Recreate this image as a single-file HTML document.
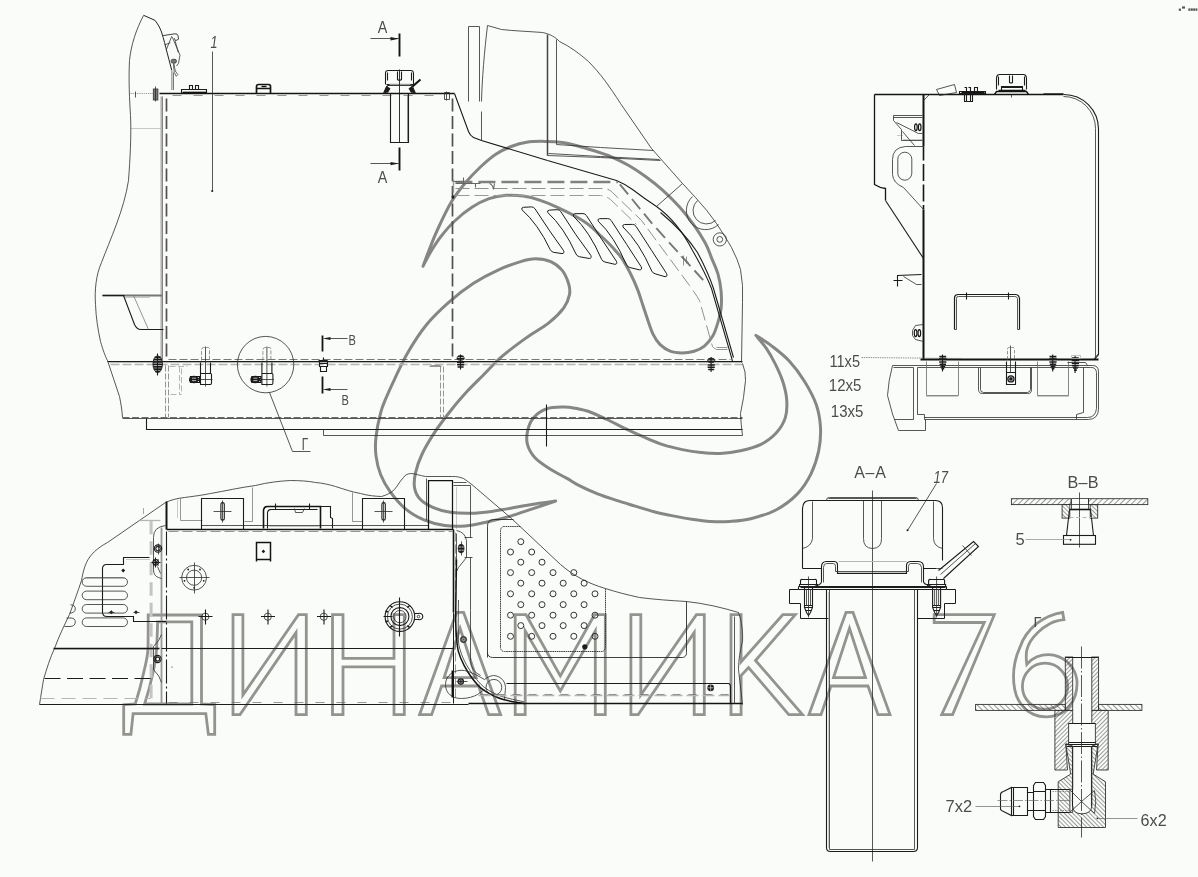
<!DOCTYPE html>
<html><head><meta charset="utf-8"><title>drawing</title>
<style>
html,body{margin:0;padding:0;background:#fafcf9;}
body{width:1198px;height:877px;overflow:hidden;font-family:"Liberation Sans",sans-serif;}
svg{display:block}
.k{stroke:#141414;stroke-width:1.7;fill:none}
.m{stroke:#1c1c1c;stroke-width:1.1;fill:none}
.t{stroke:#2c2c2c;stroke-width:.8;fill:none}
.tt{stroke:#6a6a6a;stroke-width:.7;fill:none}
.g{stroke:#9a9a9a;stroke-width:2;fill:none}
.gl{stroke:#b5b5b5;stroke-width:1.2;fill:none}
.wm{stroke:#939390;stroke-width:2.8;fill:none;stroke-linejoin:miter}
.sw{stroke:#868684;stroke-width:3.0;fill:none;stroke-linecap:round;stroke-linejoin:round}
.f{fill:#1c1c1c;stroke:none}
text{font-family:"Liberation Sans",sans-serif;fill:#4a4a4a;opacity:.99}
</style></head><body>
<svg width="1198" height="877" viewBox="0 0 1198 877">
<rect width="1198" height="877" fill="#fafcf9"/>
<defs>
<filter id="soft" x="-2%" y="-2%" width="104%" height="104%"><feGaussianBlur stdDeviation="0.45"/></filter>
<filter id="soft2" x="-2%" y="-2%" width="104%" height="104%"><feGaussianBlur stdDeviation="0.6"/></filter>
<pattern id="h1" width="4" height="4" patternUnits="userSpaceOnUse" patternTransform="rotate(45)"><line x1="0" y1="0" x2="0" y2="4" stroke="#333" stroke-width="1"/></pattern>
<pattern id="h2" width="3" height="3" patternUnits="userSpaceOnUse" patternTransform="rotate(-45)"><line x1="0" y1="0" x2="0" y2="3" stroke="#333" stroke-width=".95"/></pattern>
<pattern id="h3" width="4" height="4" patternUnits="userSpaceOnUse" patternTransform="rotate(-45)"><line x1="0" y1="0" x2="0" y2="4" stroke="#333" stroke-width="1"/></pattern>
<pattern id="h4" width="3" height="3" patternUnits="userSpaceOnUse" patternTransform="rotate(45)"><line x1="0" y1="0" x2="0" y2="3" stroke="#333" stroke-width=".95"/></pattern>
</defs>

<!-- watermark swoosh -->
<g class="sw" filter="url(#soft2)">
<path d="M423.0,266.3 C424.0,263.6 426.7,256.1 429.1,250.0 C431.5,243.9 433.9,237.5 437.6,229.5 C441.3,221.5 446.7,209.8 451.3,202.1 C455.9,194.4 460.1,189.2 465.0,183.3 C469.9,177.5 475.3,171.8 480.4,167.0 C485.5,162.2 490.7,157.6 495.8,154.2 C500.9,150.8 506.1,148.5 511.2,146.5 C516.3,144.5 520.9,143.0 526.6,142.2 C532.3,141.3 539.4,141.3 545.4,141.4 C551.4,141.5 557.2,141.8 562.5,142.5 C567.8,143.2 571.8,144.3 577.1,145.7 C582.4,147.1 588.5,149.0 594.2,150.8 C599.9,152.7 605.6,154.4 611.3,156.8 C617.0,159.2 622.7,162.0 628.4,165.3 C634.1,168.6 639.8,172.4 645.5,176.5 C651.2,180.6 656.9,185.0 662.6,190.1 C668.3,195.2 674.7,201.6 679.8,207.3 C684.9,213.0 689.1,218.4 693.4,224.4 C697.7,230.4 702.4,237.8 705.4,243.2 C708.4,248.6 709.1,251.9 711.2,257.1 C713.3,262.3 716.4,268.5 718.0,274.2 C719.6,279.9 720.6,285.6 721.1,291.3 C721.6,297.0 721.6,303.3 721.1,308.4 C720.6,313.5 719.4,317.5 718.0,322.1 C716.6,326.7 715.2,331.8 712.9,335.8 C710.6,339.8 707.5,343.5 704.4,346.1 C701.3,348.7 697.8,350.1 694.1,351.2 C690.4,352.3 686.1,352.9 682.1,352.9 C678.1,352.9 673.8,352.6 670.1,351.2 C666.4,349.8 662.8,347.2 659.9,344.4 C657.0,341.5 655.0,338.1 653.0,334.1 C651.0,330.1 649.6,325.2 647.9,320.4 C646.2,315.5 644.5,310.1 642.8,305.0 C641.1,299.9 639.6,294.7 637.6,289.6 C635.6,284.5 633.4,279.3 630.8,274.2 C628.2,269.1 625.3,263.4 622.2,258.8 C619.1,254.2 615.5,250.6 612.0,246.8 C608.5,243.0 605.0,239.7 601.0,236.0 C597.0,232.3 592.6,227.8 588.2,224.4 C583.8,221.0 579.6,218.7 574.5,215.8 C569.4,213.0 563.1,209.9 557.4,207.3 C551.7,204.7 546.0,202.3 540.3,200.4 C534.6,198.5 528.9,196.9 523.2,196.1 C517.5,195.2 511.8,194.9 506.1,195.3 C500.4,195.7 494.7,196.7 489.0,198.7 C483.3,200.7 477.6,203.6 471.9,207.3 C466.2,211.0 459.8,216.2 454.7,221.0 C449.6,225.8 445.1,231.2 441.1,236.3 C437.1,241.4 433.8,246.7 430.8,251.7 C427.8,256.7 424.3,263.9 423.0,266.3 Z"/>
<path d="M555.7,501.0 C551.9,502.3 540.6,506.1 533.1,508.6 C525.6,511.1 518.1,513.9 510.6,516.1 C503.1,518.3 495.5,520.1 488.0,521.7 C480.5,523.3 472.6,525.3 465.4,525.9 C458.2,526.5 451.6,526.5 444.7,525.5 C437.8,524.5 430.6,522.7 424.0,519.9 C417.4,517.1 410.8,513.3 405.2,508.6 C399.6,503.9 394.2,497.2 390.1,491.6 C386.0,486.0 383.1,480.6 380.7,474.7 C378.3,468.8 376.8,462.2 376.0,455.9 C375.2,449.6 375.2,444.2 376.0,437.0 C376.8,429.8 378.9,419.3 380.7,412.6 C382.4,405.9 384.2,402.6 386.5,397.0 C388.8,391.4 391.0,386.7 394.5,379.3 C398.0,371.9 402.3,362.0 407.6,352.9 C412.9,343.8 419.6,333.2 426.5,324.7 C433.4,316.2 441.2,309.0 449.0,302.1 C456.8,295.2 465.3,288.6 473.5,283.3 C481.7,278.0 490.1,273.7 498.0,270.1 C505.9,266.5 514.3,263.5 520.6,261.6 C526.9,259.7 530.6,258.8 535.6,258.8 C540.6,258.8 546.3,259.7 550.7,261.6 C555.1,263.5 559.0,266.5 562.0,270.1 C565.0,273.7 567.2,279.2 568.5,283.3 C569.8,287.4 570.3,290.5 569.5,294.6 C568.7,298.7 567.2,303.1 563.8,307.8 C560.3,312.5 555.1,317.8 548.8,322.8 C542.5,327.8 534.1,332.2 526.2,337.9 C518.4,343.5 508.9,350.4 501.7,356.7 C494.5,363.0 488.5,369.9 482.9,375.5 C477.3,381.1 473.0,385.1 467.9,390.6 C462.8,396.2 457.6,402.0 452.2,408.8 C446.8,415.6 440.3,423.9 435.3,431.4 C430.3,438.9 425.4,447.1 422.1,454.0 C418.8,460.9 416.8,467.2 415.5,472.8 C414.2,478.4 413.8,483.5 414.6,487.9 C415.4,492.3 417.1,495.9 420.2,499.2 C423.3,502.5 428.4,505.4 433.4,507.6 C438.4,509.8 444.0,511.3 450.3,512.3 C456.6,513.2 464.1,513.4 471.0,513.3 C477.9,513.1 484.5,512.3 491.7,511.4 C498.9,510.4 507.1,508.9 514.3,507.6 C521.5,506.4 528.1,505.0 535.0,503.9 C541.9,502.8 552.2,501.5 555.7,501.0 Z"/>
<path d="M755.9,335.4 C758.5,337.1 765.8,341.3 771.3,345.6 C776.8,349.9 783.7,355.0 789.2,361.0 C794.8,367.0 800.1,374.2 804.6,381.5 C809.1,388.8 813.6,396.9 816.2,404.6 C818.9,412.3 820.1,420.0 820.5,427.7 C820.9,435.4 820.3,443.1 818.7,450.8 C817.1,458.5 814.6,466.5 811.0,473.8 C807.4,481.1 802.7,488.4 796.9,494.4 C791.1,500.4 784.1,505.6 776.4,509.7 C768.7,513.8 758.6,516.7 750.8,518.7 C743.0,520.7 736.1,521.0 729.4,521.5 C722.7,522.0 716.9,521.9 710.6,521.5 C704.3,521.1 698.0,520.2 691.7,519.3 C685.4,518.4 679.2,517.2 672.9,515.9 C666.6,514.6 660.4,513.3 654.1,511.7 C647.8,510.1 641.6,508.0 635.3,506.1 C629.0,504.2 622.8,502.4 616.5,500.4 C610.2,498.4 603.9,496.4 597.6,493.9 C591.3,491.4 583.9,488.0 578.8,485.4 C573.7,482.8 571.8,481.1 567.0,478.4 C562.2,475.7 555.4,472.4 550.1,469.0 C544.8,465.6 538.8,461.8 535.0,457.7 C531.2,453.6 528.8,449.0 527.5,444.6 C526.2,440.2 526.6,435.8 527.5,431.4 C528.4,427.0 530.0,422.0 533.1,418.2 C536.2,414.4 541.3,410.7 546.3,408.8 C551.3,406.9 558.5,407.0 563.3,406.9 C568.1,406.8 570.6,407.3 575.1,408.2 C579.6,409.1 584.8,410.1 590.1,412.0 C595.4,413.9 601.0,416.7 607.0,419.5 C613.0,422.3 619.6,425.9 625.9,428.9 C632.2,431.9 638.4,434.7 644.7,437.4 C651.0,440.1 657.2,442.9 663.5,444.9 C669.8,446.9 676.0,448.3 682.3,449.6 C688.6,450.9 694.8,451.9 701.1,452.5 C707.4,453.1 713.4,453.7 720.0,453.4 C726.6,453.1 733.7,452.3 740.5,450.8 C747.3,449.3 755.0,447.4 761.0,444.4 C767.0,441.4 772.3,437.3 776.4,432.8 C780.5,428.3 783.7,422.9 785.4,417.4 C787.1,411.8 787.1,405.5 786.7,399.5 C786.3,393.5 784.7,387.5 782.8,381.5 C780.9,375.5 777.9,369.2 775.1,363.6 C772.3,358.1 769.4,352.9 766.2,348.2 C763.0,343.5 757.6,337.5 755.9,335.4 Z"/>
</g>
<!-- watermark letters -->
<g class="wm" filter="url(#soft)">
<!-- Д -->
<path d="M148.2,615 H201.5 V704 L214.7,704.7 V734.3 H208.4 L205.8,713.6 H133.1 L130.9,734.3 H123.7 V704.7 L135.2,704 C138.5,694 141,685 142.9,675.8 C145.5,665 147.8,657 148,648.4 C148.2,636 148.2,624 148.2,615 Z"/>
<path d="M157.6,621.9 H191.8 V704 H144.6 C147.8,694 150.3,685 152.3,675.8 C154.5,666 156.2,657 156.6,648.4 C157.1,639 157.5,630 157.6,621.9 Z"/>
<!-- И -->
<path d="M233,614.7 H242.9 V695 L298.5,614.7 H306.3 V714.6 H296 V632.6 L240,714.6 H233 Z"/>
<!-- Н -->
<path d="M332.5,614.7 H343 V658.4 H394 V614.7 H404.3 V714.6 H394 V666.8 H343 V714.6 H332.5 Z"/>
<!-- А -->
<path d="M419.6,714.6 L456.6,612.4 H463.6 L500.6,714.6 H488.6 L478.6,686 H441.6 L431.6,714.6 Z"/>
<path d="M444.1,677.6 L460.1,628.4 L476.1,677.6 Z"/>
<!-- М -->
<path d="M515.2,614.7 H526 L560.3,676 L594.5,614.7 H605.3 V714.6 H595.3 V630.9 L560.3,691 L525.2,630.9 V714.6 H515.2 Z"/>
<!-- И -->
<path d="M630.9,614.7 H640.8 V695 L696.4,614.7 H704.3 V714.6 H694.2 V632.6 L638.2,714.6 H630.9 Z"/>
<!-- К -->
<path d="M731,614.7 H741.1 V661.8 L782.8,614.7 H795.3 L755.5,660.5 L802.5,714.6 H788.8 L748.5,667.5 L741.1,675.5 V714.6 H731 Z"/>
<!-- А -->
<path d="M809,714.6 L846,612.4 H853 L890,714.6 H878 L868,686 H831 L821,714.6 Z"/>
<path d="M833.5,677.6 L849.5,628.4 L865.5,677.6 Z"/>
<!-- 7 -->
<path d="M934.2,614.7 H994.3 L952.6,714.6 H941.7 L984.3,622.5 H934.2 Z"/>
<!-- 6 -->
<path d="M1062.7,612.3 C1052,614 1044,618 1036.9,623.4 C1029,630 1023,638 1020.2,646.7 C1016,656 1013.5,666 1013.5,676 C1013.5,686 1015,694 1018.5,700.2 C1022,707 1027,711.5 1033.5,714.4 C1038,716.5 1042,717 1046.9,716.9 C1053,716.5 1059,715 1063.6,711.9 C1069,708 1073,702 1075.3,695.2 C1077,690 1077.2,685 1076.9,680.1 C1076,674 1074,669 1070.3,665.1 C1066,660 1060,656.5 1053.6,655.1 C1048,654 1042,654.8 1036.9,656.8 C1033,658.5 1029.5,661 1026.8,664.3 C1026,659 1026,654.5 1026.8,650.1 C1028.5,643 1032,638 1036.9,633.4 C1041,629 1045,626 1050.2,623.4 C1054,621.5 1059,620.3 1063.9,619.7 Z"/>
<ellipse cx="1045" cy="686.2" rx="22.6" ry="23"/>
</g>

<!-- ===== TOP-LEFT VIEW ===== -->
<g id="tl">
<!-- left body outline -->
<path d="M143.6,15.3 L154.9,20.3 C158,24 160,28 161.5,32 C164,40 165.5,46 166.7,51 L171.8,70.5" style="stroke:#222;stroke-width:1;fill:none"/>
<path class="t" d="M 143.5,15.5 C 136.0,30.0 131.0,45.0 129.5,60.5 C 128.5,80.0 129.5,100.0 130.5,115.5 C 131.5,135.0 130.0,160.0 128.5,180.5 C 124.0,210.0 110.0,240.0 101.5,262.5 C 96.0,275.0 94.5,290.0 95.5,304.5 C 96.0,318.0 98.0,330.0 100.5,341.5 C 103.0,350.0 105.0,356.0 107.5,360.5 C 112.0,374.0 116.0,386.0 119.5,396.5 C 121.0,404.0 122.0,410.0 122.5,417.5"/>
<path class="tt" d="M 131.5,128.5 H 160.5" style="stroke-dasharray:1 1"/>
<path class="tt" d="M 130.5,93.5 H 158.5" style="stroke-dasharray:1.2 1"/>
<path class="t" d="M 135.5,91.5 V 97.5"/>
<!-- latch at top -->
<path d="M163.1,35.6 L174.9,33.8 Q177.6,33.6 178,35.6 L178.5,39.2 L175.4,40.8 L174.4,38.2" style="stroke:#2a2a2a;stroke-width:.9;fill:none"/>
<path d="M171.8,36.2 L166.2,50 M164.6,44.9 L170.3,42.8 M172.3,37.2 L180,55.1 L178.5,63.3 L176.5,66 M175.2,41.2 L178.3,52.5" style="stroke:#333;stroke-width:.8;fill:none"/>
<rect x="171.2" y="59.3" width="5.2" height="3.8" rx="1.5" fill="#777" stroke="#333" stroke-width=".8"/>
<path d="M173.8,63 L175.3,71 L177.8,74.5 L176.3,76.3 L174.3,72.5 L173.4,64" style="stroke:#444;stroke-width:.8;fill:none"/>
<path d="M171.9,71 V90 M173.5,72.5 V90" style="stroke:#6a6a6a;stroke-width:.9;fill:none"/>
<!-- top line of tank -->
<path class="k" d="M 159.5,93.5 H 454.5" style="stroke-width:1.35"/>
<path class="tt" d="M 172.5,95.5 H 440.5" style="stroke-dasharray:9 12"/>
<!-- top-left bolt -->
<rect x="153.3" y="89" width="4.6" height="11" fill="#777" stroke="#333" stroke-width=".8"/>
<path class="t" d="M 155.5,86.5 V 101.5"/>
<!-- plate with studs -->
<path class="m" d="M 181.5,93.5 V 89.5 H 206.5 V 93.5 M 189.5,89.5 V 85.5 H 192.5 V 89.5 M 195.5,89.5 V 85.5 H 198.5 V 89.5"/>
<path class="k" d="M 182.5,92.5 H 206.5"/>
<!-- small cap -->
<path class="k" d="M 256.5,93.5 V 86.5 Q 256.5,84.6 258.5,84.5 H 268.5 Q 270.8,84.6 270.5,86.5 V 93.5 M 256.5,88.5 H 270.5"/>
<path class="k" d="M 261.5,86.5 H 266.5" style="stroke-width:1.4"/>
<!-- leader 1 -->
<path class="t" d="M 212.5,51.5 V 190.5"/><circle class="f" cx="212.2" cy="191" r="1.1"/>
<text x="210.6" y="47.6" font-size="17" font-style="italic" textLength="7" lengthAdjust="spacingAndGlyphs">1</text>
<!-- section A arrows -->
<path class="k" d="M 399.5,33.5 V 56.5 M 399.5,147.5 V 170.5" style="stroke-width:1.9"/>
<path class="t" d="M 370.5,38.5 H 398.5 M 370.5,163.5 H 398.5"/>
<path class="f" d="M399,38.8 L390.5,37.1 V40.5 Z M399,163.6 L390.5,161.9 V165.3 Z"/>
<text x="377.8" y="32.6" font-size="16.5" textLength="9.6" lengthAdjust="spacingAndGlyphs">А</text>
<text x="377.8" y="183.2" font-size="16.5" textLength="9.6" lengthAdjust="spacingAndGlyphs">А</text>
<!-- filler cap -->
<path class="m" d="M 385.5,84.5 V 73.5 Q 385.3,70.3 388.5,70.5 H 410.5 Q 413.4,70.3 413.5,73.5 V 84.5 M 387.5,72.5 V 80.5 M 411.5,72.5 V 80.5 M 397.5,71.5 V 79.5 Q 399.4,81.0 401.5,79.5 V 71.5"/>
<path class="m" d="M 386.5,84.5 H 413.5 M 388.5,85.5 H 410.5 M 383.5,93.5 L 386.5,86.5 L 389.5,84.5 M 415.5,93.5 L 412.5,86.5 L 409.5,84.5 M 385.5,93.5 V 90.5 M 413.5,93.5 V 90.5"/>
<path class="g" d="M 389.5,84.5 H 410.5" style="stroke-width:1.5"/>
<path class="f" d="M383.8,92.8 L386.8,86 L390.5,88.5 L388,92.8 Z M415,92.8 L412,86 L408.5,88.5 L411,92.8 Z"/>
<path class="k" d="M 412.5,86.5 L 420.5,79.5" style="stroke-width:2.1"/>
<!-- tube -->
<path class="m" d="M 390.5,93.5 V 142.5 H 408.5 V 93.5"/>
<path class="tt" d="M 407.5,94.5 V 141.5"/>
<path class="m" d="M 399.5,69.5 V 142.5" style="stroke-width:.9"/>
<!-- right end of top line, bolt, sloped -->
<path class="t" d="M 444.5,92.5 H 449.5 V 99.5 H 444.5 Z M 446.5,91.5 V 100.5"/>
<path class="k" d="M 454.5,93.5 L 468.5,131.5 Q 470.0,135.5 473.5,137.5 L 481.5,140.5 L 547.5,160.5" style="stroke-width:1.05"/>
<path class="m" d="M 547.5,160.5 L 616.5,180.5 Q 625.0,184.0 632.5,189.5 Q 645.0,199.0 656.5,206.5 Q 678.0,222.0 692.5,250.5 Q 705.0,272.0 711.5,288.5 L 731.5,357.5 L 732.5,361.5" style="stroke-width:1.05"/>
<path class="m" d="M 660.5,212.5 Q 684.0,232.0 697.5,252.5 Q 708.0,272.0 713.5,288.5 L 733.5,357.5"/>
<!-- dashed tank right wall -->
<path class="m" d="M 452.5,98.5 V 358.5" style="stroke-dasharray:13 4.5;stroke-width:1.7;stroke:#505050"/>
<!-- left wall -->
<path class="g" d="M 161.5,96.5 V 360.5" style="stroke:#b4b4b4;stroke-width:2.2"/>
<path class="t" d="M 162.5,96.5 V 360.5" style="stroke:#707070"/>
<path class="m" d="M 166.5,98.5 V 359.5" style="stroke-dasharray:13 4.5;stroke-width:1.7;stroke:#505050"/>
<!-- shelf -->
<path class="g" d="M 102.5,295.5 H 162.5" style="stroke:#777;stroke-width:1.8"/>
<path class="m" d="M 102.5,295.5 H 124.5"/>
<path class="m" d="M 123.5,295.5 L 134.5,324.5 Q 137.0,329.9 141.5,329.5 H 163.5"/>
<path class="tt" d="M 133.5,295.5 L 148.5,329.5"/>
<path class="tt" d="M 124.5,297.5 H 150.5" style="stroke-dasharray:1 1"/>
<!-- floor lines -->
<path class="m" d="M 107.5,361.5 H 742.5" style="stroke-width:1.1"/>
<path class="tt" d="M 107.5,362.5 H 742.5" style="stroke:#999"/>
<path class="gl" d="M 110.5,364.5 H 742.5" style="stroke-dasharray:9 3;stroke-width:1.5"/>
<path class="t" d="M 168.5,359.5 H 730.5" style="stroke-dasharray:8 3;stroke:#555"/>
<!-- bottom lines -->
<path class="t" d="M 122.5,417.5 H 742.5" style="stroke-dasharray:7 2.5;stroke:#444"/>
<path class="t" d="M 122.5,418.5 H 742.5"/>
<path class="m" d="M 146.5,418.5 V 429.5 H 742.5"/>
<path class="t" d="M 323.5,429.5 V 435.5 H 742.5"/>
<!-- right wavy end -->
<path class="t" d="M 742.5,363.5 Q 746.0,372.0 745.5,380.5 Q 744.0,398.0 740.5,413.5 Q 741.0,425.0 742.5,435.5"/>
<path class="m" d="M 546.5,404.5 V 446.5"/>
<!-- bolts on floor -->
<g id="bolt1"><path d="M154.6,357.3 H160.8 M153.5,359.6 H162 M153,362 H162.4 M153,364.4 H162.4 M153.3,366.8 H162 M154,369.2 H161.4 M155.2,371.4 H160.2" stroke="#1c1c1c" stroke-width="1.7" fill="none"/><ellipse cx="157.7" cy="364.2" rx="4.7" ry="8.3" fill="none" stroke="#222" stroke-width="1"/><path class="m" d="M 157.5,353.5 V 375.5"/></g>
<g id="bolt2"><path d="M458,356.6 H463.2 M456.8,358.8 H464.4 M457,362.6 H464.2 M457,364.8 H464.2 M457.6,367 H463.6" stroke="#1c1c1c" stroke-width="1.5" fill="none"/><ellipse cx="460.6" cy="358" rx="3.6" ry="2.4" fill="none" stroke="#222" stroke-width=".9"/><path class="m" d="M 460.5,354.5 V 369.5"/></g>
<use href="#bolt2" x="250.6" y="2.5"/>
<!-- dashed boxes under floor -->
<path class="tt" d="M 165.5,365.5 V 417.5 M 168.5,365.5 V 417.5" style="stroke-dasharray:6 2"/>
<path class="gl" d="M 169.5,366.5 H 187.5 M 179.5,366.5 V 394.5 M 181.5,368.5 V 394.5 M 170.5,394.5 H 181.5" style="stroke-dasharray:6 2.5;stroke-width:1"/>
<path class="tt" d="M 440.5,366.5 V 417.5 M 443.5,366.5 V 417.5" style="stroke-dasharray:6 2"/>
<path class="tt" d="M 429.5,366.5 H 441.5 M 430.5,365.5 H 440.5"/>
<!-- fitting 1 & 2 -->
<g id="fit">
<path class="tt" d="M 201.5,360.5 V 349.5 Q 201.8,347.8 203.5,347.5 H 208.5 Q 209.7,347.8 209.5,349.5 V 360.5" style="stroke-dasharray:4 1.5"/>
<path class="m" d="M 200.5,362.5 V 373.5 H 210.5 V 362.5 M 200.5,373.5 V 384.5 H 210.5 Q 211.7,384.3 211.5,382.5 V 375.5 Q 211.7,373.5 210.5,373.5"/>
<path class="t" d="M 205.5,346.5 V 386.5 M 199.5,379.5 H 212.5"/>
<path class="k" d="M 190.5,376.5 H 199.5 V 382.5 H 190.5 Q 188.8,379.5 190.5,376.5 Z M 193.5,376.5 V 382.5 M 196.5,376.5 V 382.5 M 190.5,378.5 H 199.5 M 190.5,380.5 H 199.5" style="stroke-width:1.2"/>
<ellipse cx="194" cy="379.5" rx="4.6" ry="3.8" class="f"/>
<path d="M192,378.2 H196 M192,380.6 H196" stroke="#fafcf9" stroke-width=".7"/>
</g>
<use href="#fit" x="61.4" y="0"/>
<circle class="t" cx="265.6" cy="364.6" r="28.2"/>
<path class="t" d="M 269.5,392.5 L 292.5,451.5 H 310.5"/>
<text x="301.8" y="449.6" font-size="17" textLength="6.3" lengthAdjust="spacingAndGlyphs">Г</text>
<!-- section B -->
<path class="k" d="M 322.5,335.5 V 351.5 M 322.5,376.5 V 393.5" style="stroke-width:1.8"/>
<path class="t" d="M 324.5,338.5 H 347.5 M 324.5,389.5 H 347.5"/>
<path class="f" d="M323,338.4 L330.5,336.9 V339.9 Z M323,389.5 L330.5,388 V391 Z"/>
<text x="348.6" y="344.6" font-size="14" textLength="7.4" lengthAdjust="spacingAndGlyphs">В</text>
<text x="341.6" y="405" font-size="14" textLength="7.4" lengthAdjust="spacingAndGlyphs">В</text>
<path class="m" d="M 318.5,360.5 H 327.5 M 319.5,360.5 V 366.5 H 327.5 V 360.5 M 320.5,366.5 V 371.5 H 326.5 V 366.5 M 319.5,363.5 H 327.5 M 323.5,357.5 V 360.5"/>
<!-- dashed hood lines -->
<path d="M455.4,182 H618" fill="none" stroke="#808080" stroke-width="2.4" stroke-dasharray="17 6"/><path d="M618,182 L651.3,222.6 L706,283.3" fill="none" stroke="#787878" stroke-width="1.9" stroke-dasharray="13 6" stroke-dashoffset="-3"/>
<path class="gl" d="M 455.5,188.5 H 604.5 Q 609.0,188.8 612.5,192.5 L 641.5,220.5 L 689.5,285.5 Q 697.0,296.0 699.5,300.5 L 712.5,346.5" style="stroke:#909090;stroke-dasharray:14 5;stroke-width:1"/>
<path class="gl" d="M 455.5,195.5 H 600.5 Q 606.0,195.8 610.5,199.5 L 636.5,224.5" style="stroke:#9a9a9a;stroke-dasharray:14 5;stroke-width:1"/>
<path class="tt" d="M 712.5,346.5 Q 714.0,348.5 716.5,349.5 H 727.5 M 716.5,347.5 H 727.5"/>
<path class="g" d="M 453.5,179.5 V 192.5" style="stroke-width:1.4"/>
<path class="m" d="M 453.5,181.5 H 462.5 M 463.5,177.5 V 184.5 M 455.5,183.5 H 480.5 M 475.5,183.5 V 187.5 M 489.5,183.5 Q 493.0,185.0 493.5,189.5 L 494.5,183.5" style="stroke:#666"/>
<circle class="f" cx="453" cy="197" r="1.4"/>
<!-- vent slots -->
<g class="m" style="stroke-width:1">
<path d="M522,209.8 Q521,207.6 523.5,207.3 L531.5,206.9 Q533.8,206.9 535,208.8 Q550,232 563.5,250.5 Q564.8,253.5 562,253.6 L553.5,252.3 Q551.3,251.8 550.2,249.6 Q538,224 522,209.8 Z"/>
<path d="M547.8,212.6 Q546.8,210.4 549.3,210.1 L557.3,209.7 Q559.6,209.7 560.8,211.6 Q576,236 590.8,255.4 Q592.1,258.4 589.3,258.5 L579.3,256.7 Q577.1,256.2 576,254 Q563.8,227 547.8,212.6 Z"/>
<path d="M573.4,216.2 Q572.4,214 574.9,213.7 L582.9,213.6 Q585.2,213.6 586.4,215.5 Q602,240 616.4,261.2 Q617.7,264.2 614.9,264.3 L604.9,262 Q602.7,261.5 601.6,259.3 Q589.4,231 573.4,216.2 Z"/>
<path d="M598.2,221.2 Q597.2,219 599.7,218.7 L607.7,218.6 Q610,218.6 611.2,220.5 Q627,245 641.2,266.8 Q642.5,269.8 639.7,269.9 L629.7,267.5 Q627.5,267 626.4,264.8 Q614.2,236 598.2,221.2 Z"/>
<path d="M623,227 Q622,224.8 624.5,224.5 L632.5,224.4 Q634.8,224.4 636,226.3 Q652,251 666.6,273.6 Q667.9,276.6 665.1,276.7 L655.1,273.8 Q652.9,273.3 651.8,271.1 Q639,242 623,227 Z"/>
</g>
<path class="tt" d="M 680.5,256.5 L 688.5,262.5 M 683.5,255.5 V 265.5 M 686.5,256.5 V 263.5" />
<!-- window / cab -->
<path class="t" d="M 468.5,101.5 V 26.5 H 479.5 V 101.5"/>
<path class="t" d="M 481.5,101.5 C 482.0,80.0 484.5,50.0 487.5,25.5 L 501.5,29.5 C 515.0,31.0 530.0,31.5 542.5,32.5 C 550.0,34.0 556.0,37.5 559.5,41.5 C 570.0,46.5 580.0,54.0 588.5,61.5 C 600.0,73.0 610.0,87.0 620.5,103.5 L 651.5,148.5 L 682.5,183.5 L 695.5,197.5 Q 708.0,211.0 716.5,223.5 Q 726.0,238.0 731.5,247.5 Q 738.0,260.0 740.5,269.5 Q 743.5,285.0 742.5,302.5 L 741.5,362.5"/>
<path class="t" d="M 481.5,111.5 V 140.5"/>
<path class="t" d="M 547.5,34.5 V 155.5" style="stroke:#444;stroke-width:1.5"/>
<path class="t" d="M 556.5,39.5 V 144.5 L 600.5,147.5 L 653.5,150.5"/>
<path class="t" d="M 547.5,155.5 L 600.5,157.5 L 660.5,160.5 M 548.5,153.5 L 600.5,156.5 L 659.5,159.5"/>
<path class="t" d="M 656.5,206.5 L 682.5,183.5"/>
<path class="t" d="M 697.5,200.5 A 12.8,12.8 0 1 0 715.5,220.5 M 692.5,196.5 A 17,17 0 1 0 718.5,224.5"/>
<circle class="t" cx="719.8" cy="239.4" r="6.6"/><circle class="t" cx="719.8" cy="239.4" r="2.9"/>
</g>

<!-- ===== RIGHT VIEW ===== -->
<g id="rv">
<!-- tank outline -->
<path class="k" d="M 874.5,94.5 H 1063.5" style="stroke-width:1.4"/>
<path class="m" d="M 1063.5,94.5 A 34.7,34.7 0 0 1 1098.5,129.5 V 354.5 L 1094.5,359.5"/>
<path class="t" d="M 1063.5,96.5 A 32,32 0 0 1 1095.5,128.5 V 357.5"/>
<path class="k" d="M 923.5,94.5 V 146.5 M 923.5,209.5 V 359.5" style="stroke-width:2"/>
<path class="k" d="M 923.5,146.5 V 209.5" style="stroke-width:1.6;stroke-dasharray:17 3.5;stroke-dashoffset:3"/>
<path class="k" d="M 920.5,359.5 H 1098.5" style="stroke-width:2"/>
<path class="t" d="M 1093.5,359.5 L 1098.5,353.5"/>
<path class="t" d="M 923.5,100.5 L 929.5,94.5"/>
<path class="t" d="M 1043.5,93.5 H 1063.5"/>
<!-- left body -->
<path class="k" d="M 874.5,94.5 V 184.5 Q 880.0,188.0 885.5,188.5 V 200.5" style="stroke-width:1.3"/>
<path class="m" d="M 885.5,200.5 L 923.5,258.5"/>
<!-- bracket top -->
<path class="t" d="M 922.5,115.5 H 893.5 V 120.5 L 901.5,129.5 V 140.5 H 922.5 M 896.5,122.5 L 918.5,133.5 H 922.5 M 902.5,131.5 L 914.5,145.5 M 893.5,117.5 H 922.5"/>
<path class="tt" d="M 897.5,135.5 H 903.5 M 903.5,139.5 H 922.5" style="stroke-dasharray:1 1"/>
<ellipse class="k" cx="915.9" cy="127.2" rx="1.3" ry="3.4" style="stroke-width:1.2"/><ellipse class="k" cx="919.7" cy="127.2" rx="1.3" ry="3.4" style="stroke-width:1.2"/>
<!-- lug with slot -->
<path class="t" d="M 923.5,146.5 H 905.5 Q 892.5,147.5 892.5,159.5 V 174.5 Q 893.0,183.0 903.5,187.5 L 923.5,209.5"/>
<rect class="t" x="897.8" y="152.2" width="14" height="28" rx="7"/>
<!-- top items -->
<path class="t" d="M 936.5,89.5 L 954.5,84.5 L 956.5,92.5 L 939.5,95.5 Z"/>
<path class="m" d="M 959.5,91.5 H 985.5 V 93.5 H 959.5 Z M 964.5,87.5 H 966.5 V 101.5 H 964.5 M 968.5,87.5 H 970.5 V 101.5 H 968.5 M 964.5,94.5 V 101.5 H 972.5 V 94.5 M 974.5,91.5 V 87.5 H 977.5 V 91.5"/>
<path class="k" d="M 961.5,92.5 H 984.5" style="stroke-width:1.5"/>
<!-- cap -->
<path class="m" d="M 996.5,89.5 V 78.5 Q 996.5,74.0 1000.5,74.5 H 1022.5 Q 1026.4,74.0 1026.5,78.5 V 89.5 M 998.5,76.5 V 85.5 M 1024.5,76.5 V 85.5 M 1009.5,75.5 V 82.5 Q 1011.1,83.5 1012.5,82.5 V 75.5"/>
<path class="m" d="M 1001.5,86.5 H 1022.5 V 90.5 H 1001.5 Z M 1001.5,87.5 H 1022.5"/>
<path class="k" d="M 998.5,90.5 H 1025.5 M 994.5,94.5 L 996.5,91.5 H 1026.5 L 1028.5,94.5" style="stroke-width:1.4"/>
<path class="t" d="M 1011.5,94.5 V 97.5"/>
<!-- small hook bracket -->
<path class="m" d="M 921.5,274.5 L 897.5,275.5 V 286.5 M 893.5,280.5 H 902.5"/>
<path class="t" d="M 903.5,276.5 L 916.5,284.5 H 921.5"/>
<!-- U bracket -->
<path class="m" d="M 954.5,329.5 V 298.5 Q 954.3,294.5 958.5,294.5 H 1015.5 Q 1019.0,294.5 1019.5,298.5 V 329.5" style="stroke-width:1.2"/>
<path class="t" d="M 956.5,329.5 V 298.5 Q 956.3,296.3 958.5,296.5 H 1014.5 Q 1017.0,296.3 1017.5,298.5 V 329.5 M 954.5,329.5 H 956.5 M 1017.5,329.5 H 1019.5"/>
<path class="m" d="M 966.5,292.5 V 299.5 M 1008.5,292.5 V 299.5"/>
<!-- lower lug -->
<path class="t" d="M 923.5,324.5 L 915.5,325.5 L 912.5,330.5 V 335.5 L 915.5,339.5 L 923.5,341.5"/>
<ellipse class="k" cx="915.6" cy="333.2" rx="1.3" ry="3.5" style="stroke-width:1.2"/><ellipse class="k" cx="919.3" cy="333.2" rx="1.3" ry="3.5" style="stroke-width:1.2"/>
<!-- labels -->
<text x="829.5" y="367.2" font-size="16.2" textLength="30.5" lengthAdjust="spacingAndGlyphs">11х5</text>
<text x="828.8" y="391" font-size="16.2" textLength="32.6" lengthAdjust="spacingAndGlyphs">12х5</text>
<text x="830.8" y="416.8" font-size="16.2" textLength="32.6" lengthAdjust="spacingAndGlyphs">13х5</text>
<path class="tt" d="M 861.5,357.5 L 962.5,358.5" style="stroke-dasharray:1.5 .8"/>
<!-- frame below -->
<path class="t" d="M 892.5,365.5 H 1092.5 Q 1098.4,365.4 1098.5,371.5 V 409.5 Q 1098.0,419.1 1088.5,419.5 H 924.5"/>
<path class="t" d="M 917.5,367.5 H 1090.5 Q 1096.0,367.0 1096.5,372.5 V 408.5 Q 1095.5,417.4 1087.5,417.5 H 924.5"/>
<path class="t" d="M 892.5,365.5 Q 888.5,380.0 887.5,395.5 Q 892.0,415.0 898.5,430.5 H 925.5 V 419.5"/>
<path class="t" d="M 913.5,367.5 V 419.5 M 917.5,367.5 V 414.5 H 924.5 V 419.5 M 893.5,367.5 H 913.5 M 894.5,419.5 H 913.5"/>
<path class="t" d="M 926.5,361.5 V 395.5 H 958.5 V 361.5 M 1037.5,361.5 V 395.5 H 1068.5 V 361.5" style="stroke:#6a6a6a"/>
<path class="tt" d="M 926.5,396.5 H 958.5 M 1037.5,396.5 H 1068.5" style="stroke-dasharray:1 1"/>
<path class="t" d="M 978.5,367.5 V 389.5 Q 978.6,393.7 982.5,393.5 H 1027.5 Q 1031.8,393.7 1031.5,389.5 V 367.5"/>
<path class="t" d="M 980.5,367.5 V 389.5 Q 980.4,392.0 983.5,392.5 H 1027.5 Q 1030.0,392.0 1030.5,389.5 V 367.5"/>
<path class="t" d="M 1083.5,367.5 V 412.5 L 1076.5,414.5 V 419.5 M 1067.5,362.5 H 1085.5 L 1087.5,365.5"/>
<!-- center fitting -->
<path class="tt" d="M 1007.5,359.5 V 349.5 Q 1007.5,347.7 1008.5,347.5 H 1013.5 Q 1014.3,347.7 1014.5,349.5 V 359.5" style="stroke-dasharray:3.5 1.5"/>
<path class="m" d="M 1006.5,361.5 V 372.5 H 1015.5 V 361.5 M 1006.5,372.5 V 384.5 H 1015.5 V 372.5"/>
<path class="t" d="M 1010.5,345.5 V 372.5"/>
<circle class="f" cx="1010.9" cy="378.9" r="3.7"/><circle cx="1010.9" cy="378.9" r="2.1" fill="none" stroke="#fafcf9" stroke-width=".6"/>
<!-- bolts -->
<g id="bolt3"><path d="M939.4,356.6 H946.2 M939,359 H946.6 M939.2,362 H946.4 M939.6,364.3 H946 M940.4,366.5 H945.2 M941.4,368.6 H944.2" stroke="#1c1c1c" stroke-width="1.6" fill="none"/><path class="m" d="M 942.5,354.5 V 371.5"/></g>
<use href="#bolt3" x="110.2" y="0"/>
<g transform="translate(132.6,1.5)"><use href="#bolt3"/></g>
<path class="gl" d="M 1071.5,355.5 H 1080.5 V 358.5 H 1071.5 Z" style="stroke-width:.8"/>
</g>

<!-- ===== BOTTOM-LEFT VIEW (plan) ===== -->
<g id="bl">
<!-- outer body left + top wavy -->
<path class="t" d="M 39.5,704.5 C 41.0,695.0 42.5,686.0 43.5,679.5 C 47.0,668.0 50.0,658.0 54.5,648.5 C 59.0,636.0 64.0,626.0 69.5,614.5 C 74.0,602.0 78.0,591.0 81.5,580.5 C 83.0,572.0 84.5,567.0 86.5,562.5 C 90.0,555.0 97.0,548.0 107.5,542.5 L 165.5,502.5 C 171.0,500.0 177.0,498.3 184.5,497.5 C 200.0,495.5 205.0,494.6 210.5,493.5 C 225.0,491.0 240.0,487.5 255.5,485.5 C 267.0,482.5 280.0,481.0 290.5,480.5 C 300.0,480.6 308.0,481.0 315.5,482.5 C 322.0,483.0 329.0,484.5 335.5,486.5 C 345.0,489.5 352.0,492.0 360.5,493.5 C 368.0,495.6 375.0,496.3 381.5,496.5 C 386.0,495.3 391.0,493.0 394.5,489.5 C 398.0,485.0 400.5,480.5 403.5,477.5 C 405.0,475.0 407.5,473.9 410.5,473.5 C 415.0,473.5 420.0,475.6 425.5,476.5 H 452.5 C 457.0,476.4 460.0,477.2 463.5,478.5 C 468.0,481.5 472.0,484.5 476.5,488.5 L 511.5,518.5 L 560.5,564.5 C 575.0,577.0 590.0,584.0 605.5,588.5 C 616.0,592.0 628.0,595.0 639.5,597.5 C 655.0,599.5 670.0,600.5 686.5,601.5 C 705.0,603.5 722.0,607.5 738.5,612.5"/>
<path class="t" d="M 738.5,612.5 C 742.0,622.0 743.0,632.0 742.5,641.5 C 740.0,651.0 738.5,660.0 738.5,669.5 C 739.5,681.0 741.5,693.0 742.5,704.5"/>
<!-- tank top edge + upper things -->
<path class="k" d="M 166.5,501.5 V 529.5" style="stroke-width:2"/>
<path class="k" d="M 166.5,529.5 H 453.5" style="stroke-width:1.7"/>
<path class="t" d="M 201.5,525.5 H 428.5"/>
<path class="tt" d="M 168.5,531.5 H 452.5" style="stroke-dasharray:10 4"/>
<path class="tt" d="M 180.5,498.5 V 520.5 H 202.5 M 252.5,487.5 V 521.5 H 244.5"/>
<path class="tt" d="M 177.5,500.5 V 517.5" style="stroke-dasharray:1 1"/>
<path class="m" d="M 201.5,529.5 V 498.5 H 243.5 V 529.5"/>
<rect class="m" x="220.9" y="502.6" width="3.4" height="17.5" rx="1.7"/>
<path class="t" d="M 213.5,511.5 H 231.5 M 222.5,500.5 V 522.5"/>
<path class="tt" d="M 352.5,492.5 V 521.5 H 362.5"/>
<path class="m" d="M 362.5,529.5 V 498.5 H 404.5 V 529.5"/>
<rect class="m" x="381.9" y="502.6" width="3.4" height="17.5" rx="1.7"/>
<path class="t" d="M 374.5,511.5 H 392.5 M 383.5,500.5 V 522.5"/>
<!-- handle -->
<path class="k" d="M 263.5,528.5 V 510.5 Q 263.9,506.3 267.5,506.5 H 320.5 V 528.5" style="stroke-width:1.6"/>
<path class="m" d="M 267.5,528.5 V 512.5 Q 268.0,509.2 271.5,509.5 H 317.5"/>
<path class="m" d="M 320.5,506.5 H 330.5 V 517.5 L 332.5,518.5 V 528.5"/>
<path class="m" d="M 275.5,503.5 V 509.5 M 309.5,503.5 V 509.5"/>
<path class="t" d="M 294.5,508.5 L 295.5,512.5 H 302.5 L 304.5,508.5"/>
<path class="tt" d="M 269.5,526.5 H 319.5" style="stroke-dasharray:1 1"/>
<!-- tall rect top right of tank -->
<path class="k" d="M 428.5,529.5 V 480.5 H 452.5 V 529.5" style="stroke-width:1.25"/>
<path class="t" d="M 426.5,478.5 V 520.5 M 453.5,485.5 H 470.5 V 537.5 M 453.5,482.5 H 466.5 M 464.5,537.5 H 472.5 M 470.5,557.5 V 610.5 M 464.5,557.5 H 472.5"/>
<path class="tt" d="M 456.5,487.5 V 528.5" style="stroke-dasharray:1 1"/>
<!-- tank right wall -->
<path class="k" d="M 453.5,529.5 V 612.5" style="stroke-width:1.6"/><path class="m" d="M 453.5,612.5 V 703.5" style="stroke-width:1.05"/>
<path class="tt" d="M 455.5,532.5 V 700.5" style="stroke-dasharray:9 3"/>
<path class="t" d="M 456.5,533.5 V 560.5"/>
<path class="t" d="M 456.5,530.5 Q 465.0,532.0 466.5,540.5 V 557.5 L 458.5,567.5 L 456.5,571.5"/>
<ellipse class="f" cx="461.1" cy="548.6" rx="3.3" ry="4.6"/><path d="M458.5,547 H463.7 M458.5,550.2 H463.7" stroke="#fafcf9" stroke-width=".8"/><path class="t" d="M 461.5,541.5 V 555.5"/>
<!-- curved double line bottom right of tank -->
<path d="M456.5,559.5 C456.4,566.2 456.0,589.9 455.9,600.0 C455.8,610.1 455.6,613.8 455.7,620.0 C455.8,626.2 456.0,631.8 456.5,637.1 C457.0,642.4 457.2,647.1 458.5,651.9 C459.8,656.6 461.9,661.2 464.2,665.6 C466.5,670.0 469.3,674.4 472.2,678.2 C475.1,682.0 477.9,685.5 481.3,688.4 C484.7,691.2 488.9,693.4 492.7,695.3 C496.5,697.2 498.8,698.4 504.1,699.8 C509.4,701.2 521.2,703.1 524.6,703.8" style="stroke:#141414;stroke-width:1.5;fill:none"/>
<path d="M458.5,600.0 C458.5,606.2 458.0,628.5 458.3,637.0 C458.6,645.5 459.2,646.4 460.5,651.0 C461.8,655.6 464.0,660.2 466.3,664.5 C468.6,668.8 471.5,672.8 474.3,676.5 C477.1,680.2 480.0,683.7 483.3,686.5 C486.6,689.3 490.3,691.4 494.0,693.2 C497.7,695.0 500.3,696.1 505.3,697.5 C510.3,698.9 520.9,701.1 524.0,701.8" style="stroke:#2c2c2c;stroke-width:.8;fill:none"/>
<circle cx="463.5" cy="639.5" r="3.1" fill="#555" stroke="#222" stroke-width=".8"/><circle cx="463.5" cy="639.5" r="1.3" fill="none" stroke="#ccc" stroke-width=".6"/>
<!-- lug link -->
<path class="t" d="M 464.5,670.5 C 455.0,669.0 445.4,675.0 445.5,684.5 C 445.4,693.0 452.0,698.7 461.5,698.5 C 468.0,698.5 474.0,696.5 477.5,694.5 C 481.0,692.0 483.0,690.5 484.5,689.5 M 464.5,670.5 C 472.0,672.0 479.0,676.5 484.5,679.5 C 487.0,677.5 490.0,675.9 493.5,675.5 C 500.5,675.9 505.3,681.0 505.5,687.5 C 505.3,691.5 504.8,695.0 504.5,699.5"/>
<circle class="t" cx="493.9" cy="687.3" r="7.9"/>
<path class="k" d="M 452.5,670.5 V 697.5" style="stroke-width:1.9"/>
<circle class="f" cx="460.8" cy="681.6" r="3.3"/><circle cx="460.8" cy="681.6" r="1.7" fill="none" stroke="#fafcf9" stroke-width=".5"/>
<path class="t" d="M 456.5,681.5 H 467.5"/>
<path class="t" d="M 470.5,610.5 V 660.5 Q 471.0,671.0 480.5,675.5"/>
<!-- left side details -->
<path class="gl" d="M 139.5,520.5 H 160.5" style="stroke-width:1.3"/>
<path d="M151.1,520.7 V704" stroke="#c4c4c4" stroke-width="3" fill="none" stroke-dasharray="13.5 7"/>
<path class="g" d="M 161.5,527.5 V 704.5" style="stroke:#999;stroke-width:1.8"/>
<path class="m" d="M 166.5,531.5 V 703.5" style="stroke-dasharray:24 3 2 3;stroke-width:1.1"/>
<path class="t" d="M 143.5,508.5 V 514.5" style="stroke-dasharray:1 1"/>
<path class="t" d="M 165.5,525.5 Q 153.2,527.0 153.5,537.5 V 569.5 Q 153.5,576.0 158.5,577.5 L 161.5,578.5"/>
<circle class="m" cx="158" cy="548.6" r="3.7"/><circle class="m" cx="158" cy="548.6" r="2.2"/><path class="t" d="M 158.5,543.5 V 554.5"/>
<circle class="m" cx="155.7" cy="562.3" r="2.8"/><path class="m" d="M 151.5,562.5 H 160.5 M 155.5,557.5 V 567.5 M 153.5,559.5 L 158.5,565.5 M 158.5,559.5 L 153.5,565.5"/>
<path class="t" d="M 157.5,566.5 L 160.5,573.5"/>
<path class="m" d="M 149.5,557.5 H 123.5 V 564.5 H 106.5 Q 102.7,564.6 102.5,568.5 V 612.5 Q 102.9,616.8 107.5,616.5 H 133.5 V 621.5 H 166.5"/>
<path class="tt" d="M 126.5,559.5 H 150.5" style="stroke-dasharray:1 1"/>
<path class="f" d="M123.2,568.4 L125.2,570.4 L123.2,572.4 L121.2,570.4 Z M111.3,610.2 L113.3,612.2 L111.3,614.2 L109.3,612.2 Z M136,610.2 L138,612.2 L136,614.2 L134,612.2 Z"/>
<path class="t" d="M 108.5,612.5 H 114.5 M 133.5,612.5 H 139.5"/>
<g class="t">
<rect x="82.2" y="577.7" width="45.3" height="8.6" rx="4.3"/>
<rect x="82.2" y="591.1" width="45.3" height="8.6" rx="4.3"/>
<rect x="82.2" y="604.5" width="45.3" height="8.6" rx="4.3"/>
<rect x="82.2" y="617.9" width="45.3" height="8.6" rx="4.3"/>
<path d="M70.5,604.8 Q75.5,605 75.3,609 Q75,613 69.5,613.2 M66.5,618 H71 Q75.5,618.3 75.3,622.2 Q75,626.4 70,626.5 H64.5"/>
</g>
<path class="tt" d="M 84.5,578.5 H 126.5" style="stroke-dasharray:1 1"/>
<!-- horizontal lines -->
<path class="k" d="M 53.5,648.5 H 159.5" style="stroke-width:1.7"/>
<path class="m" d="M 161.5,648.5 H 453.5"/>
<path class="tt" d="M 55.5,649.5 H 158.5" style="stroke-dasharray:1 1"/>
<path class="m" d="M 44.5,678.5 H 150.5" style="stroke-dasharray:16 6.5;stroke-width:1.1"/>
<path class="gl" d="M 40.5,698.5 H 150.5" style="stroke-dasharray:14 7;stroke-width:1.2"/>
<path class="m" d="M 39.5,704.5 H 468.5"/>
<path class="k" d="M 468.5,703.5 H 742.5" style="stroke-width:1.5"/>
<path class="tt" d="M 168.5,702.5 H 452.5" style="stroke-dasharray:9 12"/>
<!-- lower bracket -->
<path class="t" d="M 161.5,634.5 Q 160.0,640.0 153.5,646.5 V 669.5 Q 160.0,676.0 161.5,682.5"/>
<circle class="m" cx="157.5" cy="659" r="3.6"/><circle class="m" cx="157.5" cy="659" r="2.1"/>
<circle class="f" cx="172" cy="667" r=".6"/>
<!-- items on tank -->
<path class="k" d="M 256.5,561.5 V 542.5 H 270.5 V 561.5 M 256.5,559.5 H 270.5" style="stroke-width:1.5"/>
<path class="f" d="M263.4,549.6 L265.2,551.4 L263.4,553.2 L261.6,551.4 Z"/>
<g id="flg"><circle class="t" cx="194.1" cy="577.7" r="12.4"/><circle class="t" cx="194.1" cy="577.7" r="7.6"/><path class="t" d="M 179.5,577.5 H 209.5 M 194.5,562.5 V 593.5"/>
<circle class="f" cx="194.1" cy="587.8" r=".9"/><circle class="f" cx="203.7" cy="580.8" r=".9"/><circle class="f" cx="184.5" cy="580.8" r=".9"/><circle class="f" cx="200" cy="569.5" r=".9"/><circle class="f" cx="188.2" cy="569.5" r=".9"/></g>
<g id="cm"><circle class="t" cx="205.3" cy="616.7" r="3.6"/><path class="m" d="M 198.5,616.5 H 212.5 M 205.5,609.5 V 624.5"/></g>
<use href="#cm" x="62.5" y="0"/><use href="#cm" x="118.5" y="0"/>
<!-- big fitting -->
<circle class="m" cx="399.9" cy="616.6" r="14.8"/><circle class="t" cx="399.9" cy="616.6" r="12.5"/><circle class="m" cx="399.9" cy="616.6" r="9"/><circle class="t" cx="399.9" cy="616.6" r="6.2"/>
<path class="m" d="M 384.5,616.5 H 387.5 M 399.5,597.5 V 636.5 M 383.5,616.5 H 392.5"/>
<path class="m" d="M 414.5,613.5 H 418.5 A 3.2,3.2 0 1 1 418.5,619.5 H 414.5"/><circle class="t" cx="418.5" cy="616.6" r="1.3"/>
<g class="m" style="stroke-width:1.6"><path d="M390,605.5 L392.5,607.5 M409.8,605.5 L407.3,607.5 M390,627.7 L392.5,625.7 M409.8,627.7 L407.3,625.7 M385.5,611 L388,612 M385.5,622 L388,621"/></g>
<!-- right panel w/ holes -->
<path class="t" d="M 487.5,657.5 V 526.5 Q 487.3,520.0 493.5,519.5 H 513.5 M 487.5,652.5 Q 487.3,657.0 492.5,657.5 H 682.5 Q 686.7,657.0 686.5,652.5 V 601.5" style="stroke:#2a2a2a;stroke-width:.9"/>
<path class="t" d="M 500.5,646.5 V 531.5 Q 500.3,526.0 505.5,526.5 H 520.5 M 500.5,646.5 Q 500.3,651.9 505.5,651.5 H 600.5 Q 605.3,651.9 605.5,646.5 V 588.5" style="stroke:#2a2a2a;stroke-width:.9;stroke-dasharray:1.6 .6"/>
<g class="t" style="stroke:#2a2a2a;stroke-width:.95">
<circle cx="520.8" cy="541.7" r="3"/>
<circle cx="510.5" cy="552" r="3"/><circle cx="531.7" cy="552" r="3"/>
<circle cx="520.8" cy="562.2" r="3"/><circle cx="542" cy="562.2" r="3"/>
<circle cx="510.5" cy="572.6" r="3"/><circle cx="531.7" cy="572.6" r="3"/><circle cx="553" cy="572.6" r="3"/><circle cx="573.8" cy="572.6" r="3"/>
<circle cx="520.8" cy="583.2" r="3"/><circle cx="542" cy="583.2" r="3"/><circle cx="563.2" cy="583.2" r="3"/><circle cx="584.1" cy="583.2" r="3"/>
<circle cx="510.5" cy="593.8" r="3"/><circle cx="531.7" cy="593.8" r="3"/><circle cx="553" cy="593.8" r="3"/><circle cx="573.8" cy="593.8" r="3"/><circle cx="595" cy="593.8" r="3"/>
<circle cx="520.8" cy="604.6" r="3"/><circle cx="542" cy="604.6" r="3"/><circle cx="563.2" cy="604.6" r="3"/><circle cx="584.1" cy="604.6" r="3"/>
<circle cx="510.5" cy="615.2" r="3"/><circle cx="531.7" cy="615.2" r="3"/><circle cx="553" cy="615.2" r="3"/><circle cx="573.8" cy="615.2" r="3"/><circle cx="595" cy="615.2" r="3"/>
<circle cx="520.8" cy="625.6" r="3"/><circle cx="542" cy="625.6" r="3"/><circle cx="563.2" cy="625.6" r="3"/><circle cx="584.1" cy="625.6" r="3"/>
<circle cx="510.5" cy="636.3" r="3"/><circle cx="531.7" cy="636.3" r="3"/><circle cx="553" cy="636.3" r="3"/><circle cx="573.8" cy="636.3" r="3"/><circle cx="595" cy="636.3" r="3"/>
</g>
<circle class="f" cx="584.8" cy="646.8" r="2.6"/>
<!-- bottom rail -->
<path class="m" d="M 506.5,683.5 H 728.5 Q 730.3,683.7 730.5,686.5 V 703.5"/>
<path class="gl" d="M 478.5,695.5 H 729.5" style="stroke-dasharray:12 4;stroke-width:1.5"/>
<path class="tt" d="M 480.5,694.5 H 729.5" style="stroke-dasharray:8 8"/>
<circle class="f" cx="710.7" cy="687.8" r="3.4"/><path d="M707.6,687.8 H713.8 M710.7,684.7 V690.9" stroke="#fafcf9" stroke-width=".6"/>
<path class="t" d="M 734.5,616.5 V 703.5"/>
</g>

<!-- ===== SECTION A-A ===== -->
<g id="aa">
<text x="854.3" y="477.6" font-size="16" textLength="31.5" lengthAdjust="spacing">А–А</text>
<text x="933.4" y="482.6" font-size="16.5" font-style="italic" textLength="14.5" lengthAdjust="spacingAndGlyphs">17</text>
<path class="t" d="M 936.5,483.5 L 907.5,530.5"/><circle class="f" cx="907.5" cy="530.2" r="1"/>
<path class="t" d="M 872.5,490.5 V 861.5"/>
<!-- cap -->
<path class="m" d="M 802.5,568.5 V 508.5 Q 802.8,500.0 810.5,500.5 H 934.5 Q 942.8,500.0 942.5,508.5 V 560.5 M 802.5,568.5 H 821.5 M 923.5,568.5 H 936.5"/>
<path class="t" d="M 826.5,500.5 Q 826.6,497.0 829.5,497.5 H 915.5 Q 918.0,497.0 918.5,500.5 M 828.5,498.5 H 916.5"/>
<path class="t" d="M 812.5,501.5 V 538.5 Q 811.5,546.5 802.5,548.5 M 933.5,501.5 V 538.5 Q 933.8,546.5 942.5,548.5"/>
<path class="t" d="M 863.5,500.5 V 538.5 Q 863.4,548.2 872.5,548.5 Q 881.8,548.2 881.5,538.5 V 500.5"/>
<!-- inner flange -->
<path class="m" d="M 814.5,586.5 L 819.5,584.5 Q 821.3,583.5 821.5,581.5 V 566.5 Q 821.5,561.6 826.5,561.5 H 834.5 Q 837.7,561.8 837.5,565.5 V 573.5 H 906.5 V 565.5 Q 906.5,561.8 910.5,561.5 H 918.5 Q 923.3,561.6 923.5,566.5 V 581.5 Q 923.5,583.5 926.5,584.5 L 931.5,586.5"/>
<path class="t" d="M 823.5,582.5 V 567.5 Q 823.5,563.6 826.5,563.5 H 833.5 Q 835.7,563.8 835.5,566.5 V 571.5 H 908.5 V 566.5 Q 908.5,563.8 910.5,563.5 H 917.5 Q 921.3,563.6 921.5,567.5 V 582.5"/>
<path class="gl" d="M 838.5,561.5 H 906.5" style="stroke-width:1"/>
<path class="tt" d="M 838.5,572.5 H 906.5" style="stroke-dasharray:1 1"/>
<!-- flange plate -->
<path class="m" d="M 798.5,586.5 H 946.5 M 798.5,589.5 H 946.5 M 798.5,586.5 V 589.5 M 946.5,586.5 V 589.5 M 800.5,587.5 H 945.5"/>
<!-- body blocks -->
<path class="m" d="M 798.5,589.5 H 789.5 V 603.5 H 800.5 V 618.5 H 828.5 M 946.5,589.5 H 955.5 V 603.5 H 944.5 V 618.5 H 917.5" style="stroke-width:1"/>
<!-- tube -->
<path class="m" d="M 826.5,589.5 V 847.5 Q 826.4,851.5 830.5,851.5 H 913.5 Q 917.4,851.5 917.5,847.5 V 589.5"/>
<path class="t" d="M 829.5,589.5 V 849.5 M 914.5,589.5 V 849.5"/>
<path class="tt" d="M 828.5,592.5 V 848.5" style="stroke-dasharray:1 1"/>
<path class="t" d="M 829.5,849.5 H 914.5"/>
<!-- bolts -->
<g id="bltA"><path class="m" d="M 800.5,584.5 V 580.5 Q 801.0,579.0 802.5,579.5 H 814.5 Q 816.2,579.0 816.5,580.5 V 584.5 Z M 799.5,584.5 H 817.5 V 586.5 H 799.5 Z M 804.5,586.5 V 607.5 L 806.5,612.5 L 808.5,615.5 L 810.5,612.5 L 812.5,607.5 V 586.5 M 804.5,605.5 H 812.5 M 804.5,607.5 H 812.5 M 805.5,610.5 H 811.5"/><path class="t" d="M 808.5,576.5 V 617.5 M 806.5,589.5 V 605.5 M 810.5,589.5 V 605.5"/></g>
<use href="#bltA" x="128.1" y="0"/>
<!-- dipstick -->
<path class="m" d="M 938.5,570.5 L 973.5,541.5 L 978.5,546.5 L 943.5,578.5"/>
<path class="t" d="M 940.5,574.5 L 975.5,543.5 M 936.5,568.5 H 942.5 M 962.5,545.5 L 971.5,555.5"/>
</g>
<!-- ===== SECTION B-B ===== -->
<g id="bb">
<text x="1067.6" y="487.6" font-size="16.2" textLength="31" lengthAdjust="spacing">В–В</text>
<path class="t" d="M 1079.5,492.5 V 547.5"/>
<rect x="1011.4" y="498.7" width="59.6" height="5.9" fill="url(#h1)" stroke="#333" stroke-width=".9"/>
<rect x="1088.5" y="498.7" width="59.3" height="5.9" fill="url(#h1)" stroke="#333" stroke-width=".9"/>
<path class="t" d="M 1071.5,498.5 H 1088.5 M 1071.5,504.5 H 1088.5"/>
<rect x="1062.1" y="504.6" width="7.7" height="13.5" fill="url(#h2)" stroke="#333" stroke-width=".9"/>
<rect x="1090.2" y="504.6" width="7.5" height="13.5" fill="url(#h2)" stroke="#333" stroke-width=".9"/>
<path class="k" d="M 1069.5,509.5 H 1090.5" style="stroke-width:1.6"/>
<path class="m" d="M 1069.5,509.5 L 1066.5,535.5 M 1090.5,509.5 L 1093.5,535.5"/>
<path class="t" d="M 1071.5,498.5 V 509.5 M 1088.5,498.5 V 509.5"/>
<path class="gl" d="M 1069.5,517.5 H 1091.5" style="stroke-dasharray:4 2.5"/>
<rect class="m" x="1063.5" y="535.5" width="32" height="8.8"/>
<text x="1015.6" y="545" font-size="16.5">5</text>
<path class="tt" d="M 1025.5,539.5 H 1070.5" style="stroke:#888"/><circle class="f" cx="1070.6" cy="539.8" r=".9"/>
</g>
<!-- ===== DETAIL Г ===== -->
<g id="gd">
<text x="1033.6" y="626.6" font-size="14.5">Г</text>
<!-- plate -->
<rect x="975.6" y="704.4" width="89.7" height="6" fill="url(#h3)" stroke="#333" stroke-width=".9"/>
<rect x="1098.6" y="704.4" width="43.3" height="6" fill="url(#h3)" stroke="#333" stroke-width=".9"/>
<!-- upper tube walls -->
<rect x="1065.3" y="657" width="7.4" height="53.4" fill="url(#h4)" stroke="#333" stroke-width=".9"/>
<rect x="1091.8" y="657" width="6.8" height="53.4" fill="url(#h4)" stroke="#333" stroke-width=".9"/>
<path class="m" d="M 1065.5,657.5 H 1098.5"/>
<!-- lower block -->
<path d="M1054.9,710.4 H1072.7 V723.5 H1068.6 V744 H1065.8 L1067.5,770 H1054.9 Z" fill="url(#h4)" stroke="#333" stroke-width=".9"/>
<path d="M1108.2,710.4 H1091.8 V723.5 H1095.4 V744 H1098.1 L1096.5,770 H1108.2 Z" fill="url(#h4)" stroke="#333" stroke-width=".9"/>
<!-- inner tube -->
<path class="m" d="M 1068.5,723.5 H 1095.5 M 1068.5,742.5 H 1095.5 M 1065.5,744.5 H 1098.5 M 1066.5,746.5 H 1097.5 M 1072.5,746.5 V 806.5 M 1091.5,746.5 V 806.5"/>
<path d="M1065.8,744 L1070.7,774.1 L1058.2,781.8 V827.5 H1105.5 V781.8 L1093.2,774.1 L1098.1,744 L1091.8,746 V806 Q1091.5,813.8 1081.7,813.8 Q1072.9,813.8 1072.7,806 V812.4 H1069.9 V789.2 H1072.7 V746 Z" fill="url(#h2)" stroke="#333" stroke-width=".9"/>
<path class="t" d="M 1069.5,789.5 L 1081.5,801.5 L 1069.5,812.5 M 1081.5,801.5 L 1094.5,790.5 Q 1097.0,801.5 1094.5,813.5 Z"/>
<path class="t" d="M 1081.5,646.5 V 837.5" style="stroke-dasharray:22 2.5 1.5 2.5"/>
<!-- horizontal fitting -->
<path class="m" d="M 1000.5,795.5 Q 1000.2,792.0 1003.5,791.5 L 1011.5,787.5 V 815.5 L 1003.5,811.5 Q 1000.2,810.5 1000.5,808.5 Z M 1011.5,787.5 H 1027.5 V 815.5 H 1011.5 M 1013.5,787.5 V 815.5 M 1027.5,792.5 H 1033.5 M 1027.5,810.5 H 1033.5"/>
<path class="m" d="M 1033.5,785.5 L 1035.5,782.5 H 1043.5 L 1045.5,785.5 V 816.5 L 1043.5,819.5 H 1035.5 L 1033.5,816.5 Z M 1033.5,791.5 H 1045.5 M 1033.5,810.5 H 1045.5 M 1045.5,789.5 H 1050.5 V 812.5 H 1045.5 M 1050.5,789.5 H 1069.5 M 1050.5,812.5 H 1069.5"/>
<path class="tt" d="M 1052.5,791.5 H 1069.5 M 1052.5,810.5 H 1069.5" style="stroke-dasharray:1.5 1"/>
<path class="tt" d="M 997.5,800.5 H 1072.5" style="stroke-dasharray:10 2 1.5 2"/>
<text x="945.6" y="812.4" font-size="16" textLength="26.6" lengthAdjust="spacingAndGlyphs">7х2</text>
<path class="tt" d="M 975.5,806.5 H 1019.5" style="stroke:#666"/><circle class="f" cx="1019.5" cy="806.4" r=".8"/>
<text x="1140.6" y="826" font-size="16" textLength="26" lengthAdjust="spacingAndGlyphs">6х2</text>
<path class="tt" d="M 1097.5,818.5 H 1137.5" style="stroke:#666"/><circle class="f" cx="1097.3" cy="818.4" r=".8"/>
</g>
<!-- tiny mark top right -->
<g fill="#555"><rect x="1178.8" y="8.6" width="2.2" height="2.2"/><rect x="1182" y="6.4" width="3" height="2.2"/><rect x="1188.4" y="8.4" width="2" height="2.4"/><rect x="1190.8" y="8.4" width="2" height="2.4"/><rect x="1193.2" y="8.4" width="2" height="2.4"/><rect x="1195.6" y="8.4" width="1.8" height="2.4"/></g>

</svg>
</body></html>
